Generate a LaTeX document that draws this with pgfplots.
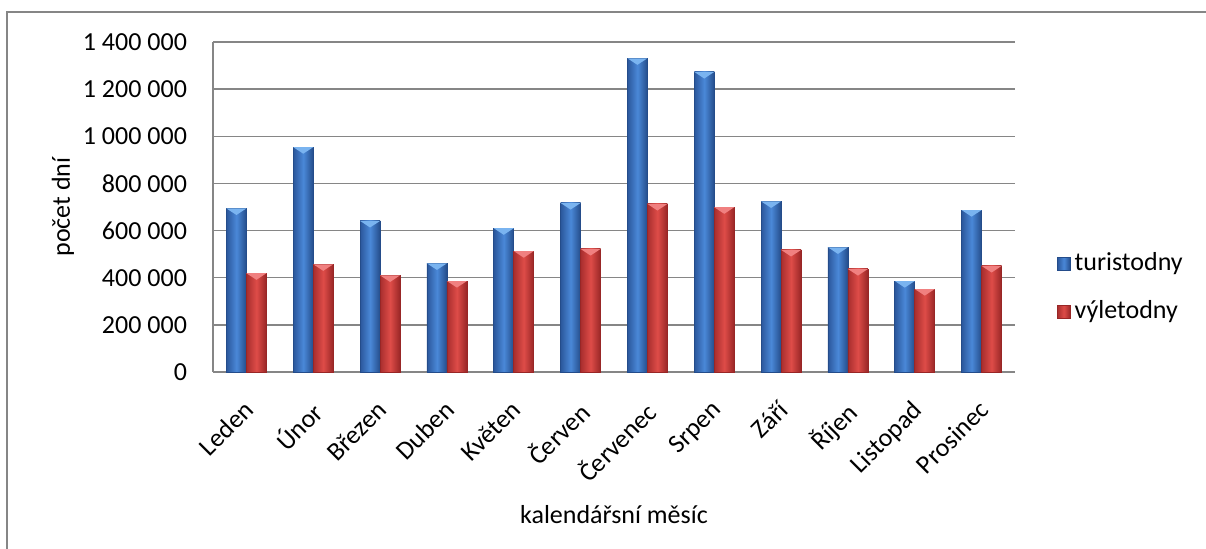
\documentclass[border=0pt]{standalone}
\usepackage{pgfplots}
\pgfplotsset{compat=1.18}
\usepackage{fontspec}
\setmainfont{Carlito}
\definecolor{gridgray}{HTML}{868686}
\definecolor{bL}{HTML}{2B579C}
\definecolor{bM}{HTML}{4A88D8}
\definecolor{bR}{HTML}{244C8A}
\definecolor{bT}{HTML}{7AB4F0}
\definecolor{rL}{HTML}{A82E2E}
\definecolor{rM}{HTML}{DE4C48}
\definecolor{rR}{HTML}{982626}
\definecolor{rT}{HTML}{F08080}
\pgfdeclareplotmark{bevel}{%
  \pgfpathmoveto{\pgfqpoint{-5pt}{0pt}}%
  \pgfpathlineto{\pgfqpoint{5pt}{0pt}}%
  \pgfpathlineto{\pgfqpoint{0pt}{-3.3pt}}%
  \pgfpathclose
  \pgfusepath{fill}}
\pgfplotsset{
  tstyle/.style={draw=bR, line width=0.3pt, left color=bL, right color=bR, middle color=bM},
  vstyle/.style={draw=rR, line width=0.3pt, left color=rL, right color=rR, middle color=rM},
}
\newcommand{\tb}[2]{\addplot[forget plot, bar shift=-5pt, tstyle] coordinates {(#1,#2)};}
\newcommand{\vb}[2]{\addplot[forget plot, bar shift=5pt, vstyle] coordinates {(#1,#2)};}
\begin{document}
\begin{tikzpicture}
\useasboundingbox (0,0) rectangle (603pt,274.5pt);
\draw[gridgray, line width=1pt] (3.5pt,0) -- (3.5pt,268.5pt) -- (603pt,268.5pt);
\fontsize{13}{15.6}\selectfont
\begin{axis}[
  at={(106.5pt,88.5pt)}, anchor=south west,
  scale only axis, width=401pt, height=165pt,
  ybar=0pt, bar width=10pt,
  xmin=-0.5, xmax=11.5,
  ymin=0, ymax=1400000,
  ytick distance=200000,
  xtick={0,...,11},
  xticklabels={Leden,Únor,Březen,Duben,Květen,Červen,Červenec,Srpen,Září,Říjen,Listopad,Prosinec},
  major tick length=0pt,
  axis lines*=left,
  axis line style={draw=gridgray, line width=0.7pt, -},
  ymajorgrids, grid style={draw=gridgray, line width=0.7pt},
  scaled y ticks=false,
  /pgf/number format/.cd, fixed, precision=0, 1000 sep={\ }, assume math mode=true,
  /pgfplots/.cd,
  tick label style={font=\fontsize{13}{15.6}\selectfont},
  yticklabel style={anchor=east, xshift=-8.5pt},
  xticklabel style={xshift=-2pt, yshift=-12pt, rotate=45, anchor=north east, inner sep=1pt},
  ylabel={počet dní},
  ylabel style={at={(axis description cs:-0.187,0.5)}, anchor=center, rotate=0, font=\fontsize{13}{15.6}\selectfont},
  xlabel={kalendářsní měsíc},
  xlabel style={at={(axis description cs:0.5,-0.433)}, anchor=center, font=\fontsize{13}{15.6}\selectfont},
  legend style={at={(axis description cs:1.052,0.255)}, anchor=west, draw=none, fill=none,
    font=\fontsize{13}{15.6}\selectfont, row sep=9pt, inner sep=0pt,
    /tikz/every even column/.style={column sep=2pt}},
  legend cell align=left,
  legend image code/.code={\path[#1] (0pt,-3.25pt) rectangle (6.5pt,3.25pt);},
  clip=false,
]
\tb{0}{694000}\vb{0}{419000}
\tb{1}{954000}\vb{1}{457000}
\tb{2}{641000}\vb{2}{410000}
\tb{3}{461000}\vb{3}{386000}
\tb{4}{610000}\vb{4}{513000}
\tb{5}{717000}\vb{5}{522000}
\tb{6}{1331000}\vb{6}{713000}
\tb{7}{1273000}\vb{7}{699000}
\tb{8}{724000}\vb{8}{518000}
\tb{9}{529000}\vb{9}{437000}
\tb{10}{386000}\vb{10}{352000}
\tb{11}{687000}\vb{11}{450000}
\addlegendimage{tstyle}\addlegendentry{turistodny}
\addlegendimage{vstyle}\addlegendentry{výletodny}
\addplot[forget plot, only marks, mark=bevel, mark options={xshift=-5pt, fill=bT, draw=none}] coordinates {
(0,694000) (1,954000) (2,641000) (3,461000) (4,610000) (5,717000)
(6,1331000) (7,1273000) (8,724000) (9,529000) (10,386000) (11,687000)};
\addplot[forget plot, only marks, mark=bevel, mark options={xshift=5pt, fill=rT, draw=none}] coordinates {
(0,419000) (1,457000) (2,410000) (3,386000) (4,513000) (5,522000)
(6,713000) (7,699000) (8,518000) (9,437000) (10,352000) (11,450000)};
\end{axis}
\end{tikzpicture}
\end{document}
